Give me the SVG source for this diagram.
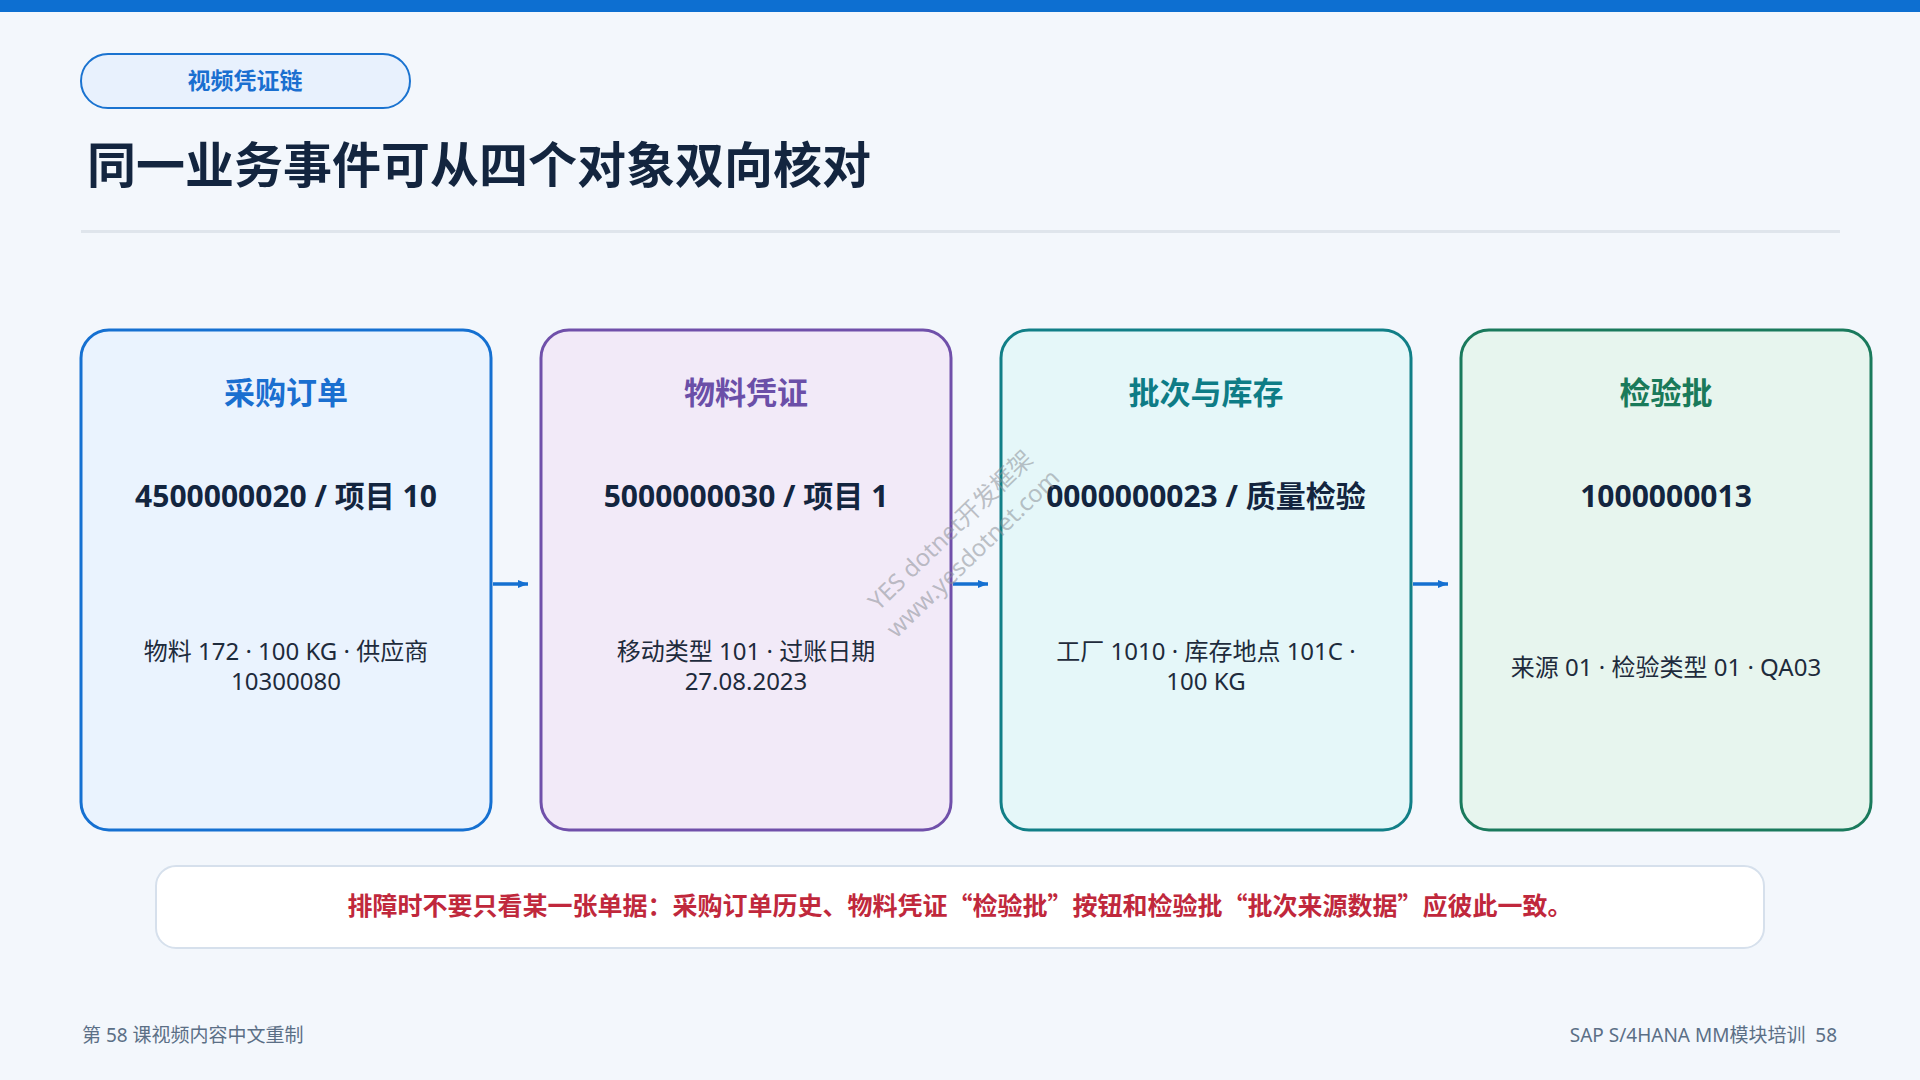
<svg xmlns="http://www.w3.org/2000/svg" width="1920" height="1080" viewBox="0 0 1920 1080">
  <style>
    .sans { font-family: "Noto Sans", "Noto Sans CJK SC", sans-serif; }
    .cjk { font-family: "Noto Sans CJK SC", "Noto Sans", sans-serif; }
    .card-title { font-size: 31px; font-weight: 700; text-anchor: middle; }
    .card-id { font-size: 30px; font-weight: 700; fill: #13253f; text-anchor: middle; }
    .card-sub { font-size: 24px; fill: #1e2b3c; text-anchor: middle; }
    .card-box { stroke-width: 3; }
    .link { stroke: #1570d1; stroke-width: 3.5; fill: none; }
    .foot { font-size: 19px; fill: #5b6f86; }
  </style>
  <defs>
    <marker id="arrow" viewBox="0 0 10 10" refX="10" refY="5" markerWidth="10" markerHeight="10" markerUnits="userSpaceOnUse" orient="auto">
      <path d="M0,1 L10,5 L0,9 Z" fill="#1570d1"/>
    </marker>
  </defs>

  <!-- page background and header band -->
  <rect x="0" y="0" width="1920" height="1080" fill="#f3f7fc"/>
  <rect x="0" y="0" width="1920" height="12" fill="#0d6fd1"/>

  <!-- section tag -->
  <g id="tag">
    <rect x="81" y="54" width="329" height="54" rx="27" fill="#e8f1fd" stroke="#1a73d0" stroke-width="2"/>
    <text class="cjk" x="245" y="89" font-size="23" font-weight="700" fill="#1a6fd0" text-anchor="middle">视频凭证链</text>
  </g>

  <!-- heading -->
  <text class="cjk" x="87" y="183" font-size="49" font-weight="700" fill="#13253f">同一业务事件可从四个对象双向核对</text>
  <rect x="81" y="230" width="1759" height="3" fill="#dfe5ec"/>

  <!-- document cards -->
  <g id="card-po">
    <rect class="card-box" x="81" y="330" width="410" height="500" rx="28" fill="#eaf3fe" stroke="#1570d1"/>
    <text class="sans card-title" x="286" y="404" fill="#1a6fd0">采购订单</text>
    <text class="sans card-id" x="286" y="507">4500000020 / 项目 10</text>
    <text class="sans card-sub" x="286" y="660">物料 172 · 100 KG · 供应商</text>
    <text class="sans card-sub" x="286" y="690">10300080</text>
  </g>

  <g id="card-matdoc">
    <rect class="card-box" x="541" y="330" width="410" height="500" rx="28" fill="#f2eaf8" stroke="#7050aa"/>
    <text class="sans card-title" x="746" y="404" fill="#6b4fa8">物料凭证</text>
    <text class="sans card-id" x="746" y="507">5000000030 / 项目 1</text>
    <text class="sans card-sub" x="746" y="660">移动类型 101 · 过账日期</text>
    <text class="sans card-sub" x="746" y="690">27.08.2023</text>
  </g>

  <g id="card-batch">
    <rect class="card-box" x="1001" y="330" width="410" height="500" rx="28" fill="#e5f7f9" stroke="#117f87"/>
    <text class="sans card-title" x="1206" y="404" fill="#0e7c86">批次与库存</text>
    <text class="sans card-id" x="1206" y="507">0000000023 / 质量检验</text>
    <text class="sans card-sub" x="1206" y="660">工厂 1010 · 库存地点 101C ·</text>
    <text class="sans card-sub" x="1206" y="690">100 KG</text>
  </g>

  <g id="card-lot">
    <rect class="card-box" x="1461" y="330" width="410" height="500" rx="28" fill="#e7f5ee" stroke="#1a7a5c"/>
    <text class="sans card-title" x="1666" y="404" fill="#1a7a5a">检验批</text>
    <text class="sans card-id" x="1666" y="507">1000000013</text>
    <text class="sans card-sub" x="1666" y="676">来源 01 · 检验类型 01 · QA03</text>
  </g>

  <!-- connectors -->
  <g id="connectors">
    <line class="link" x1="493" y1="584" x2="528" y2="584" marker-end="url(#arrow)"/>
    <line class="link" x1="953" y1="584" x2="988" y2="584" marker-end="url(#arrow)"/>
    <line class="link" x1="1413" y1="584" x2="1448" y2="584" marker-end="url(#arrow)"/>
  </g>

  <!-- watermark -->
  <g transform="translate(962,542) rotate(-44)" fill="#8a8f96" fill-opacity="0.55" font-size="24" text-anchor="middle">
    <text class="sans" x="0" y="-8">YES dotnet开发框架</text>
    <text class="sans" x="0" y="24">www.yesdotnet.com</text>
  </g>

  <!-- troubleshooting note -->
  <g id="note">
    <rect x="156" y="866" width="1608" height="82" rx="20" fill="#ffffff" stroke="#d6e0ec" stroke-width="2"/>
    <text class="cjk" x="960" y="915" font-size="25" font-weight="700" fill="#c0283c" text-anchor="middle">排障时不要只看某一张单据：采购订单历史、物料凭证“检验批”按钮和检验批“批次来源数据”应彼此一致。</text>
  </g>

  <!-- footer -->
  <text class="sans foot" x="82" y="1042">第 58 课视频内容中文重制</text>
  <text class="sans foot" x="1837" y="1042" font-size="20" text-anchor="end">SAP S/4HANA MM模块培训&#160;&#160;58</text>
</svg>
